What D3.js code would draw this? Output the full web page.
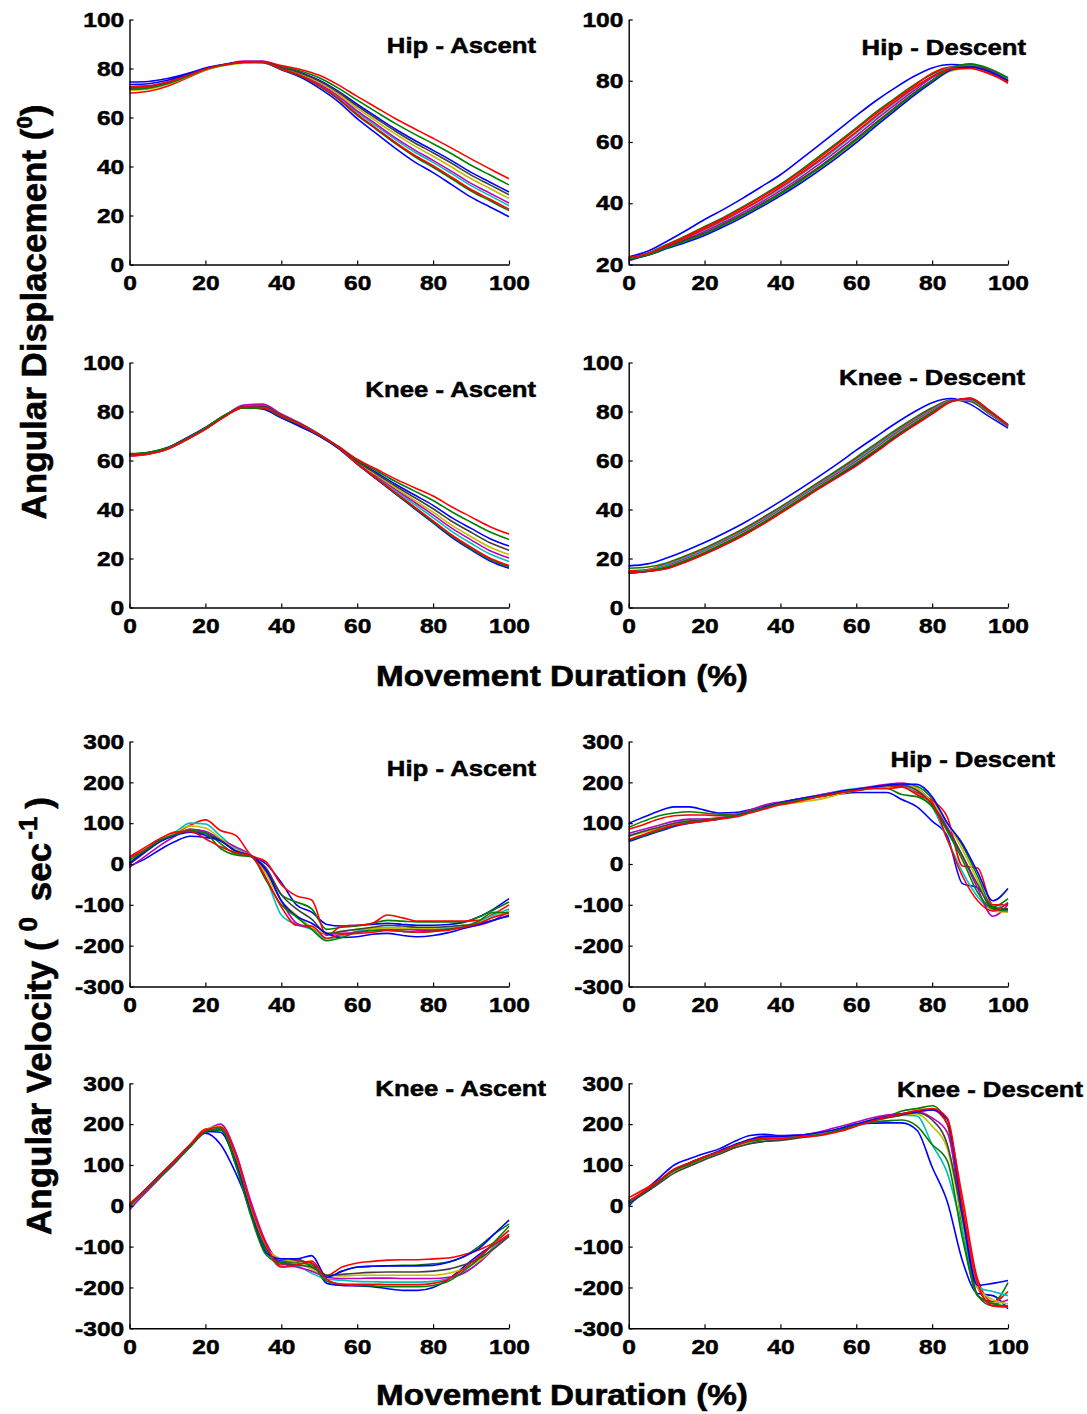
<!DOCTYPE html>
<html><head><meta charset="utf-8">
<script src="https://cdn.jsdelivr.net/npm/d3@7"></script>
<style>
body{margin:0;background:#fff}
text{font-family:"Liberation Sans",Arial,Helvetica,sans-serif;font-weight:bold;fill:#000;stroke:#000;stroke-width:0.5px;paint-order:stroke}
</style>
</head><body>
<svg id="chart" width="1087" height="1414"></svg>
<script>
// ---------- data ----------
const xDisp = [0,5,10,15,20,25,30,35,40,45,50,55,60,65,70,75,80,85,90,95,100];
const xVel = [0,4,8,12,16,20,24,28,32,36,40,44,48,52,56,60,64,68,72,76,80,84,88,92,96,100];
const xTicks = [0,20,40,60,80,100];
const dispTicks = [0,20,40,60,80,100];
const hipDescDispTicks = [20,40,60,80,100];
const velTicks = [-300,-200,-100,0,100,200,300];
const panelTitles = ["Hip - Ascent","Hip - Descent","Knee - Ascent","Knee - Descent","Hip - Ascent","Hip - Descent","Knee - Ascent","Knee - Descent"];
const xAxisLabel = "Movement Duration (%)";
const seriesColors = ["#0000ff","#008000","#ff0000","#00bfbf","#bf00bf","#bfbf00","#404040","#0000ff","#008000","#ff0000"];

const hipAscentDisp = [
 [74.5,74.7,75.9,77.8,80.2,81.7,82.7,82.6,80.5,78.4,75.2,70.7,65.4,60.3,55.3,50.8,46.6,42.3,37.6,33.6,29.6],
 [72.0,72.5,74.2,76.8,79.7,81.5,82.6,82.7,80.8,79.0,76.2,72.0,67.1,62.3,57.6,53.3,49.3,45.1,40.5,36.5,32.5],
 [70.0,70.7,72.8,76.0,79.3,81.3,82.6,82.8,81.2,79.6,77.2,73.3,68.6,64.1,59.6,55.5,51.5,47.4,43.1,39.0,35.0],
 [71.5,72.0,73.8,76.6,79.6,81.4,82.5,82.6,80.0,77.4,73.5,68.5,62.2,56.6,51.1,46.0,41.7,37.0,32.2,28.1,24.0],
 [72.0,72.5,74.2,76.8,79.7,81.5,83.0,83.0,80.1,77.6,73.8,68.8,62.7,57.3,51.8,46.9,42.5,37.9,33.1,29.1,25.1],
 [71.0,71.6,73.5,76.4,79.5,81.2,82.2,82.3,80.2,77.9,74.4,69.6,63.8,58.5,53.3,48.5,44.2,39.7,35.0,31.0,27.0],
 [72.5,72.9,74.5,77.0,79.8,81.5,82.6,82.6,80.4,78.2,74.9,70.3,64.7,59.6,54.5,49.8,45.6,41.2,36.5,32.5,28.5],
 [73.5,73.8,75.2,77.4,80.0,81.6,82.6,82.5,79.5,76.5,72.0,66.5,59.5,53.5,47.5,42.0,37.5,32.5,27.5,23.5,19.5],
 [71.5,72.0,73.8,76.6,79.6,81.4,82.5,82.5,79.7,77.0,72.8,67.5,60.9,55.2,49.4,44.2,39.7,34.9,30.0,26.0,22.0],
 [72.5,72.9,74.5,77.0,79.8,81.5,82.6,82.7,79.8,77.1,73.0,67.8,61.3,55.6,49.9,44.7,40.3,35.5,30.6,26.6,22.6]
];
const hipDescentDisp = [
 [22.5,24.3,27.5,31.0,34.7,38.0,41.6,45.4,49.3,54.0,58.8,63.7,68.6,73.3,77.5,81.3,84.2,85.3,85.0,83.3,80.0],
 [22.0,23.7,26.5,29.3,32.4,35.4,38.8,42.4,46.2,50.5,55.1,59.8,64.6,69.6,74.1,78.5,82.1,84.5,85.3,83.8,80.8],
 [22.0,23.6,26.3,29.1,32.1,35.1,38.5,42.1,45.8,50.1,54.6,59.3,64.2,69.1,73.7,78.1,82.5,84.5,84.2,82.5,79.2],
 [21.8,23.5,26.0,28.5,31.3,34.3,37.6,41.1,44.8,49.0,53.4,58.0,62.9,67.9,72.6,77.2,81.3,84.3,85.0,83.4,80.2],
 [21.2,23.3,25.8,28.2,30.8,33.7,36.9,40.4,44.1,48.2,52.6,57.2,62.0,67.1,71.9,76.6,81.0,84.2,85.3,83.6,80.0],
 [21.5,23.1,25.3,27.4,29.8,32.6,35.7,39.1,42.8,46.7,50.9,55.4,60.2,65.4,70.4,75.3,79.7,83.2,84.2,83.0,79.8],
 [21.7,23.2,25.5,28.0,30.3,33.2,36.3,39.8,43.4,47.5,51.7,56.3,61.1,66.2,71.1,75.9,80.2,83.8,84.6,83.2,80.0],
 [21.5,23.0,25.2,27.2,29.5,32.3,35.4,38.8,42.4,46.3,50.5,55.0,59.8,65.0,70.0,75.0,79.5,83.5,84.5,83.0,80.0],
 [21.8,23.1,25.4,27.6,30.0,32.9,36.0,39.4,43.1,47.1,51.3,55.9,60.7,65.8,70.7,75.6,80.0,84.0,85.5,84.0,81.0],
 [22.3,23.5,26.1,28.7,31.6,34.6,37.9,41.4,45.2,49.4,53.8,58.5,63.3,68.3,73.0,77.5,81.4,83.8,84.0,82.3,79.5]
];
const kneeAscentDisp = [
 [62.5,63.2,65.3,69.2,73.5,78.3,81.6,81.2,77.5,74.0,70.0,65.3,59.8,55.1,50.4,46.0,41.7,36.6,32.3,28.1,25.1],
 [62.8,63.4,65.2,69.0,73.2,78.4,81.6,81.5,78.0,74.6,70.4,65.6,60.2,55.9,51.5,47.6,43.7,39.0,34.8,30.8,27.8],
 [61.8,62.6,64.6,68.4,72.7,77.8,81.5,81.4,78.0,74.6,70.5,65.8,60.5,56.5,52.5,49.0,45.5,41.0,37.0,33.0,30.0],
 [62.0,62.8,64.8,68.6,72.8,77.9,82.2,82.3,78.6,75.0,70.6,65.5,58.9,53.3,47.7,42.2,36.7,31.0,26.2,21.8,18.8],
 [61.9,62.7,64.7,68.5,72.8,78.0,82.6,83.0,79.0,75.2,70.7,65.4,59.1,53.7,48.3,43.1,37.8,32.3,27.6,23.2,20.2],
 [62.1,62.9,64.9,68.7,72.9,78.0,82.0,82.0,78.5,74.9,70.5,65.5,59.3,54.1,48.9,43.9,38.9,33.5,28.9,24.6,21.6],
 [62.3,63.0,65.0,68.8,73.0,78.1,82.0,82.2,78.6,75.0,70.6,65.6,59.6,54.6,49.7,45.0,40.3,35.1,30.7,26.4,23.4],
 [62.4,63.1,65.1,69.0,73.2,78.2,81.7,81.0,77.4,73.8,70.0,65.0,58.5,52.5,46.5,40.5,34.5,28.5,23.5,19.0,16.0],
 [62.6,63.3,65.2,69.0,73.3,78.5,81.4,81.3,77.8,74.5,70.3,65.4,58.6,52.7,46.7,40.8,34.9,29.0,24.0,19.6,16.6],
 [62.0,62.7,64.7,68.5,72.8,77.8,81.8,81.6,78.2,74.7,70.4,65.4,58.7,52.8,47.0,41.2,35.4,29.5,24.6,20.1,17.1]
];
const kneeDescentDisp = [
 [17.0,17.8,20.2,23.2,26.5,30.2,34.2,38.6,43.3,48.2,53.3,58.6,64.2,69.5,74.8,79.6,83.6,85.3,83.0,78.0,73.2],
 [16.0,16.5,18.2,21.1,24.3,28.0,32.0,36.4,41.1,46.0,51.1,56.1,61.3,66.7,72.1,77.1,81.5,84.7,84.1,79.1,73.8],
 [15.0,15.5,17.8,20.6,23.9,27.5,31.5,35.9,40.6,45.5,50.6,55.5,60.7,66.0,71.5,76.5,81.1,84.6,84.4,79.4,73.9],
 [14.5,15.2,17.5,20.3,23.5,27.2,31.1,35.5,40.3,45.2,50.2,55.1,60.2,65.6,71.1,76.1,80.7,84.5,84.6,79.6,74.0],
 [14.0,14.9,17.0,19.8,23.0,26.7,30.6,35.0,39.8,44.7,49.7,54.6,59.6,65.0,70.5,75.6,80.3,84.4,84.8,79.8,74.1],
 [14.3,15.0,16.7,19.4,22.7,26.3,30.2,34.6,39.4,44.3,49.3,54.1,59.1,64.5,70.0,75.1,79.9,84.3,85.0,80.0,74.2],
 [14.2,14.8,16.3,19.1,22.3,25.9,29.8,34.2,39.0,43.9,48.9,53.7,58.6,64.0,69.5,74.7,79.6,84.2,85.2,80.2,74.3],
 [14.2,14.7,16.0,18.7,21.9,25.5,29.4,33.8,38.6,43.5,48.5,53.3,58.1,63.5,69.1,74.3,79.2,84.1,85.4,80.4,74.4],
 [14.5,15.0,16.5,19.2,22.4,26.0,29.9,34.3,39.1,44.0,49.0,53.8,58.8,64.1,69.7,74.8,79.7,84.2,85.1,80.1,74.6],
 [14.0,14.8,15.8,18.5,21.7,25.3,29.2,33.6,38.4,43.3,48.3,53.0,57.8,63.2,68.8,74.0,79.0,84.0,85.5,80.5,74.5]
];
const hipAscentVel = [
 [-5,12,35,55,68,65,58,30,20,0,-45,-100,-118,-148,-152,-150,-148,-145,-148,-150,-150,-148,-143,-130,-110,-85],
 [5,30,55,72,85,78,50,25,20,-15,-75,-93,-110,-160,-155,-152,-145,-138,-140,-142,-142,-142,-142,-130,-112,-93],
 [15,35,58,75,95,108,82,70,22,5,-50,-78,-88,-175,-152,-150,-145,-125,-132,-140,-140,-140,-140,-138,-122,-100],
 [0,28,55,78,100,98,68,38,22,-35,-125,-148,-160,-183,-175,-165,-158,-155,-158,-160,-160,-157,-152,-140,-125,-110],
 [-8,18,45,68,85,80,60,42,22,-20,-90,-145,-157,-172,-170,-167,-163,-160,-160,-162,-162,-160,-155,-150,-138,-115],
 [5,30,56,76,93,88,62,35,20,-25,-90,-125,-155,-170,-165,-160,-158,-157,-157,-157,-157,-155,-150,-145,-130,-115],
 [0,28,55,73,80,75,58,32,20,-10,-75,-110,-135,-170,-165,-160,-155,-150,-152,-155,-155,-153,-150,-147,-138,-125],
 [2,30,55,70,78,70,56,32,20,-15,-90,-128,-145,-170,-180,-178,-172,-170,-175,-178,-175,-168,-158,-148,-137,-128],
 [10,32,58,72,82,75,38,22,18,-40,-100,-130,-160,-188,-180,-167,-163,-162,-165,-167,-165,-160,-155,-140,-118,-120],
 [18,40,62,78,80,62,42,28,20,-35,-105,-150,-152,-182,-172,-170,-167,-163,-165,-167,-165,-162,-155,-145,-130,-120]
];
const hipDescentVel = [
 [100,115,130,140,140,132,125,126,133,142,150,158,162,168,172,175,175,175,158,140,105,68,-48,-58,-105,-112],
 [90,105,118,125,128,125,122,122,132,142,150,157,163,168,175,182,188,192,195,190,160,100,45,-30,-105,-85],
 [85,97,110,118,120,120,118,120,130,140,148,155,163,168,173,180,185,190,190,175,155,115,-5,-10,-100,-100],
 [70,80,88,100,108,110,113,120,130,140,150,157,165,172,180,185,188,192,195,170,140,60,-20,-80,-110,-95],
 [75,85,95,105,110,110,113,120,132,145,152,158,165,172,178,183,190,195,198,185,150,90,20,-60,-128,-100],
 [68,78,88,98,106,108,112,118,128,138,145,150,155,162,172,180,185,190,195,185,150,100,35,-40,-115,-118],
 [68,80,90,100,105,108,112,118,128,138,148,155,162,168,175,182,187,192,193,180,145,85,20,-50,-108,-110],
 [55,68,80,92,100,105,110,118,128,140,150,158,164,170,178,183,188,193,196,195,165,100,50,-20,-90,-60],
 [58,70,82,95,102,106,112,118,128,138,148,155,162,168,175,180,185,185,170,165,140,80,10,-70,-110,-115],
 [60,72,85,95,100,105,110,115,125,135,145,152,160,168,175,180,185,185,188,170,150,60,-30,-90,-115,-95]
];
const kneeAscentVel = [
 [0,38,75,112,150,178,150,80,-10,-110,-135,-135,-140,-190,-195,-196,-198,-203,-207,-207,-200,-180,-150,-120,-95,-75],
 [0,35,70,108,145,180,185,100,-20,-110,-140,-130,-150,-175,-160,-150,-148,-147,-146,-145,-142,-138,-125,-100,-70,-45],
 [5,38,75,112,150,188,192,130,0,-100,-145,-135,-140,-170,-150,-140,-136,-133,-132,-132,-130,-128,-120,-108,-90,-60],
 [-5,30,68,105,145,182,190,120,-10,-105,-150,-148,-165,-180,-182,-185,-186,-187,-187,-187,-185,-178,-165,-140,-100,-75],
 [-10,30,68,105,145,182,200,130,10,-90,-140,-150,-160,-175,-178,-178,-177,-177,-178,-178,-178,-175,-165,-140,-105,-70],
 [0,35,72,110,148,185,195,115,-5,-100,-130,-138,-155,-170,-172,-170,-170,-170,-170,-170,-170,-165,-155,-135,-105,-75],
 [0,35,72,108,145,180,188,110,-15,-105,-140,-145,-150,-170,-168,-165,-163,-162,-162,-162,-160,-155,-145,-130,-105,-75],
 [2,38,75,110,148,182,180,105,-20,-115,-130,-130,-122,-175,-160,-150,-148,-147,-147,-147,-146,-138,-125,-105,-70,-35],
 [0,35,70,108,145,182,188,100,-25,-120,-140,-140,-145,-185,-192,-195,-196,-198,-198,-198,-195,-185,-160,-130,-90,-50],
 [3,38,75,112,150,185,193,125,0,-95,-150,-145,-135,-180,-192,-192,-192,-193,-193,-193,-190,-180,-155,-125,-95,-70]
];
const kneeDescentVel = [
 [0,35,68,100,115,128,140,158,172,175,172,173,175,180,190,200,202,203,203,185,95,10,-135,-215,-220,-252],
 [5,30,58,85,100,115,128,143,153,158,163,168,173,178,188,198,208,218,232,238,245,200,-60,-220,-235,-188],
 [20,40,62,88,105,120,132,147,160,168,165,168,172,177,185,197,210,220,225,232,235,200,20,-180,-235,-210],
 [8,30,55,83,100,117,130,145,155,165,168,170,175,180,190,200,210,218,222,220,150,80,-60,-200,-210,-220],
 [10,32,58,85,102,118,132,147,160,170,170,172,177,185,195,205,215,222,226,230,215,180,-20,-200,-240,-230],
 [5,30,56,82,98,115,128,143,157,163,165,168,172,178,188,198,208,215,222,225,195,140,-40,-200,-230,-240],
 [12,30,55,80,97,113,127,142,152,158,160,165,170,176,186,197,208,215,222,228,210,150,-30,-220,-245,-245],
 [5,32,60,88,105,120,135,150,163,170,170,172,176,182,190,200,210,218,225,230,235,212,-20,-195,-190,-183],
 [8,33,60,87,102,118,132,147,158,163,165,168,172,177,186,197,205,208,210,195,150,110,-80,-220,-240,-245],
 [12,35,62,90,105,120,133,148,160,165,165,168,170,175,183,195,207,217,225,233,238,215,0,-190,-245,-248]
];

// ---------- layout ----------
const colX = [[129.5, 509], [628.7, 1008]];
const rowY = [[19.5, 264.5], [362.5, 607.5], [741.5, 986.5], [1083.3, 1328.3]];
const panels = [
 {series: hipAscentDisp,  xs: xDisp, dom: [0,100],    yt: dispTicks,        col: 0, row: 0, tx: 536,  ty: 53},
 {series: hipDescentDisp, xs: xDisp, dom: [20,100],   yt: hipDescDispTicks, col: 1, row: 0, tx: 1026, ty: 55},
 {series: kneeAscentDisp, xs: xDisp, dom: [0,100],    yt: dispTicks,        col: 0, row: 1, tx: 536,  ty: 397},
 {series: kneeDescentDisp,xs: xDisp, dom: [0,100],    yt: dispTicks,        col: 1, row: 1, tx: 1025, ty: 385},
 {series: hipAscentVel,   xs: xVel,  dom: [-300,300], yt: velTicks,         col: 0, row: 2, tx: 536,  ty: 776},
 {series: hipDescentVel,  xs: xVel,  dom: [-300,300], yt: velTicks,         col: 1, row: 2, tx: 1055, ty: 767},
 {series: kneeAscentVel,  xs: xVel,  dom: [-300,300], yt: velTicks,         col: 0, row: 3, tx: 546,  ty: 1096},
 {series: kneeDescentVel, xs: xVel,  dom: [-300,300], yt: velTicks,         col: 1, row: 3, tx: 1083, ty: 1097}
];
const SX = 1.17; // horizontal glyph stretch of the source figure

const svg = d3.select("#chart");
svg.append("rect").attr("width",1087).attr("height",1414).attr("fill","#fff");

panels.forEach((p, i) => {
  const [x0, x1] = colX[p.col];
  const [y0, y1] = rowY[p.row];
  const x = d3.scaleLinear().domain([0,100]).range([x0, x1]);
  const y = d3.scaleLinear().domain(p.dom).range([y1, y0]);
  const g = svg.append("g");

  const line = d3.line().x((d, k) => x(p.xs[k])).y(d => y(d)).curve(d3.curveMonotoneX);
  g.selectAll("path.series").data(p.series).join("path")
    .attr("class","series")
    .attr("d", line)
    .attr("fill","none")
    .attr("stroke", (d, k) => seriesColors[k])
    .attr("stroke-width", 1.6)
    .attr("stroke-linejoin","round");

  const xa = g.append("g").attr("transform", `translate(0,${y1})`)
    .call(d3.axisBottom(x).tickValues(xTicks).tickFormat(d => String(d))
      .tickSizeInner(-4).tickSizeOuter(0).tickPadding(11));
  const ya = g.append("g").attr("transform", `translate(${x0},0)`)
    .call(d3.axisLeft(y).tickValues(p.yt).tickFormat(d => String(d))
      .tickSizeInner(-4).tickSizeOuter(0).tickPadding(4.5));
  [xa, ya].forEach(a => {
    a.attr("font-size", 21).attr("font-family", null);
    a.selectAll("path.domain").attr("stroke","#000").attr("stroke-width",1.4);
    a.selectAll(".tick line").attr("stroke","#000").attr("stroke-width",1.2);
    a.selectAll(".tick text").attr("fill","#000").attr("transform", `scale(${SX},1)`);
  });

  g.append("text")
    .attr("transform", `translate(${p.tx},${p.ty}) scale(${SX},1)`)
    .attr("text-anchor","end")
    .attr("font-size", 22)
    .text(panelTitles[i]);
});

// x axis labels
[686, 1405].forEach(yy => {
  svg.append("text")
    .attr("transform", `translate(562,${yy}) scale(1.11,1)`)
    .attr("text-anchor","middle")
    .attr("font-size", 30)
    .style("stroke-width", "0.6px")
    .text(xAxisLabel);
});

// y axis labels
const yl1 = svg.append("text")
  .attr("transform","translate(46,312) rotate(-90)")
  .attr("text-anchor","middle")
  .attr("font-size", 35)
  .style("stroke-width", "0.6px");
yl1.append("tspan").text("Angular Displacement (");
yl1.append("tspan").attr("font-size", 22).attr("dy", -14).text("0");
yl1.append("tspan").attr("dy", 14).text(")");

const yl2 = svg.append("text")
  .attr("transform","translate(51,1016) rotate(-90)")
  .attr("text-anchor","middle")
  .attr("font-size", 35)
  .style("stroke-width", "0.6px");
yl2.append("tspan").text("Angular Velocity (");
yl2.append("tspan").attr("font-size", 26).attr("dx", 8).attr("dy", -14).text("0");
yl2.append("tspan").attr("dx", 6).attr("dy", 14).text(" sec");
yl2.append("tspan").attr("font-size", 26).attr("dx", 3).attr("dy", -14).text("-1");
yl2.append("tspan").attr("dx", 8).attr("dy", 14).text(")");
</script>
</body></html>
